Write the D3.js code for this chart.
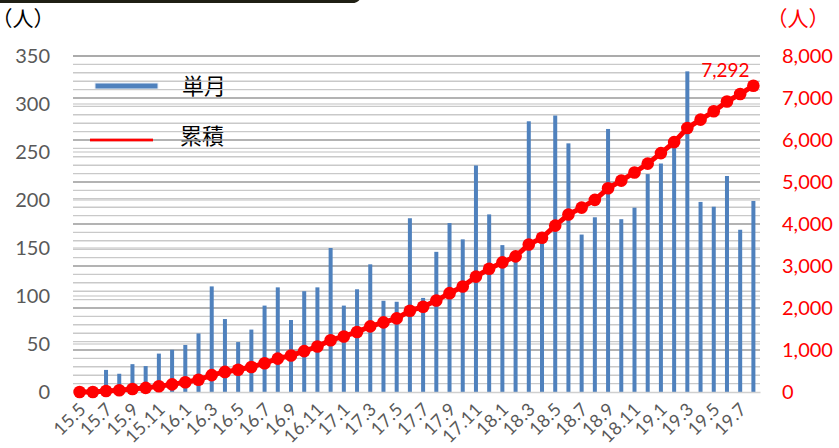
<!DOCTYPE html>
<html><head><meta charset="utf-8">
<script src="https://cdn.jsdelivr.net/npm/d3@7"></script>
<style>
html,body{margin:0;padding:0;background:#fff;}
svg{display:block;}
.unit{font-feature-settings:"halt";}
</style></head>
<body>
<svg id="chart" width="839" height="448"></svg>
<script>
const months = ["15.5","15.6","15.7","15.8","15.9","15.10","15.11","15.12",
"16.1","16.2","16.3","16.4","16.5","16.6","16.7","16.8","16.9","16.10","16.11","16.12",
"17.1","17.2","17.3","17.4","17.5","17.6","17.7","17.8","17.9","17.10","17.11","17.12",
"18.1","18.2","18.3","18.4","18.5","18.6","18.7","18.8","18.9","18.10","18.11","18.12",
"19.1","19.2","19.3","19.4","19.5","19.6","19.7","19.8"];
const monthly = [0,0,23,19,29,27,40,44,
49,61,110,76,52,65,90,109,75,105,109,150,
90,107,133,95,94,181,98,146,176,159,236,185,
153,142,282,158,288,259,164,182,274,180,192,227,
238,256,334,198,193,225,169,199];
const cumulative = [0,0,23,42,71,98,138,182,
231,292,402,478,530,595,685,794,869,974,1083,1233,
1323,1430,1563,1658,1752,1933,2031,2177,2353,2512,2748,2933,
3086,3230,3512,3672,3962,4225,4390,4575,4850,5033,5227,5437,
5688,5950,6285,6485,6683,6915,7095,7292];
const leftTicks = [0,50,100,150,200,250,300,350];
const rightTicks = [0,1000,2000,3000,4000,5000,6000,7000,8000];
const xTickLabels = months.filter((m,i)=>i%2===0);
const seriesNames = ["単月","累積"];
const unitLabel = "（人）";
const lastLabel = "7,292";

const svg = d3.select("#chart");
const L=73, R=760, T=56, B=392;
const x = d3.scaleBand().domain(months).range([L,R]);
const yL = d3.scaleLinear().domain([0,350]).range([B,T]);
const yR = d3.scaleLinear().domain([0,8000]).range([B,T]);
const numFont = "Lato, 'Open Sans', sans-serif";
const jpFont = "'Noto Sans CJK JP', sans-serif";

// top box edge
svg.append("path").attr("d","M-5,1.5 H352 Q360,1.5 360,-8")
  .attr("fill","none").attr("stroke","#1f1f14").attr("stroke-width",3.2);

// legend text (under gridlines)
const leg = svg.append("g");
leg.append("text").attr("x",182).attr("y",86).attr("dy","0.36em")
  .attr("font-family",jpFont).attr("font-size",22).attr("fill","#000").text(seriesNames[0]);
leg.append("text").attr("x",180).attr("y",136).attr("dy","0.36em")
  .attr("font-family",jpFont).attr("font-size",22).attr("fill","#000").text(seriesNames[1]);

// gridlines
const grid = svg.append("g");
grid.selectAll("line.minor").data(d3.range(200,8001,200).filter(v=>v%1000!==0)).join("line")
  .attr("x1",L).attr("x2",R).attr("y1",d=>yR(d)).attr("y2",d=>yR(d))
  .attr("stroke","#c9c9c9").attr("stroke-width",1.4);
grid.selectAll("line.left").data(leftTicks.slice(1)).join("line")
  .attr("x1",L).attr("x2",R).attr("y1",d=>yL(d)).attr("y2",d=>yL(d))
  .attr("stroke","#d4d4d4").attr("stroke-width",1.4);
grid.selectAll("line.major").data(rightTicks.slice(1)).join("line")
  .attr("x1",L).attr("x2",R).attr("y1",d=>yR(d)).attr("y2",d=>yR(d))
  .attr("stroke","#9a9a9a").attr("stroke-width",1.6);

// legend symbols
leg.append("rect").attr("x",95).attr("y",83).attr("width",63).attr("height",6)
  .attr("fill","#4f81bd").attr("stroke","#e8eef7").attr("stroke-width",1);
svg.append("line").attr("x1",90).attr("x2",153).attr("y1",140).attr("y2",140)
  .attr("stroke","#f4a0a0").attr("stroke-width",4);
svg.append("line").attr("x1",90).attr("x2",153).attr("y1",140).attr("y2",140)
  .attr("stroke","#ff0000").attr("stroke-width",2);

// bars
const bw = 4;
svg.append("g").selectAll("rect").data(months).join("rect")
  .attr("x",(d)=>x(d)+x.bandwidth()/2-bw/2)
  .attr("y",(d,i)=>yL(monthly[i]))
  .attr("width",bw)
  .attr("height",(d,i)=>B-yL(monthly[i]))
  .attr("fill","#4f81bd");

// x axis
const xAxis = svg.append("g").attr("transform",`translate(0,${B})`)
  .call(d3.axisBottom(x).tickValues(xTickLabels).tickSize(0).tickPadding(0));
xAxis.select(".domain").attr("stroke","#d0d0d0").attr("stroke-width",1.5);
xAxis.selectAll("text")
  .attr("font-family",numFont).attr("font-size",18).attr("fill","#595959")
  .attr("letter-spacing","0.3px")
  .attr("text-anchor","end").attr("x",0).attr("y",0).attr("dy","0.35em")
  .attr("transform","translate(3,14) rotate(-45)");

// cumulative line
const line = d3.line().x((d,i)=>x(months[i])+x.bandwidth()/2).y(d=>yR(d));
svg.append("path").datum(cumulative).attr("d",line)
  .attr("fill","none").attr("stroke","#ff0000").attr("stroke-width",5);
svg.append("g").selectAll("circle").data(cumulative).join("circle")
  .attr("cx",(d,i)=>x(months[i])+x.bandwidth()/2)
  .attr("cy",d=>yR(d)).attr("r",6.3).attr("fill","#ff0000");

// last label
svg.append("text").attr("x",x(months[months.length-1])+x.bandwidth()/2-28)
  .attr("y",yR(cumulative[cumulative.length-1])-9)
  .attr("text-anchor","middle").attr("font-family",numFont).attr("font-size",19)
  .attr("fill","#ff0000").text(lastLabel);

// left axis
const ax = svg.append("g").attr("transform",`translate(${L},0)`)
  .call(d3.axisLeft(yL).tickValues(leftTicks).tickSize(0).tickPadding(23));
ax.select(".domain").remove();
ax.selectAll("text").attr("font-family",numFont).attr("font-size",20).attr("fill","#595959");

// right axis
const axR = svg.append("g").attr("transform",`translate(${R},0)`)
  .call(d3.axisRight(yR).tickValues(rightTicks).tickSize(0).tickPadding(22).tickFormat(d3.format(",")));
axR.select(".domain").remove();
axR.selectAll("text").attr("font-family",numFont).attr("font-size",20).attr("fill","#ff0000");

// unit labels
svg.append("text").attr("class","unit").attr("x",2).attr("y",18).attr("dy","0.36em")
  .attr("font-family",jpFont).attr("font-size",21).attr("fill","#000").text(unitLabel);
svg.append("text").attr("class","unit").attr("x",777).attr("y",18).attr("dy","0.36em")
  .attr("font-family",jpFont).attr("font-size",21).attr("fill","#ff0000").text(unitLabel);
</script>
</body></html>
